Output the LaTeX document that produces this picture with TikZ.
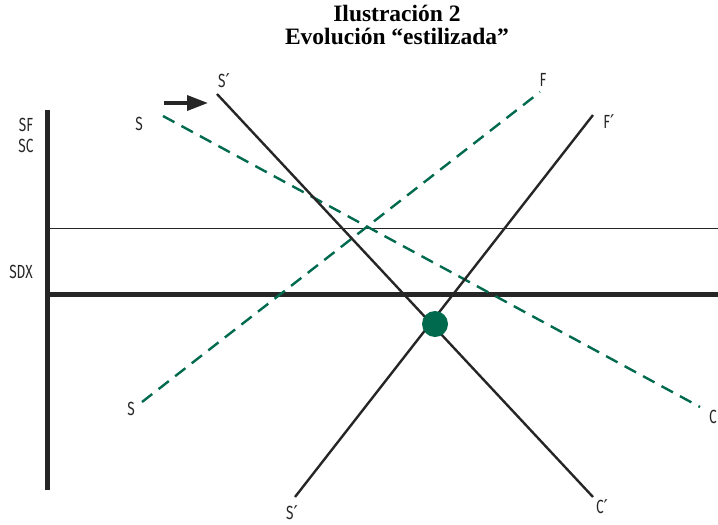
\documentclass[tikz,border=0pt]{standalone}
\usepackage{fontspec}
\setmainfont{Liberation Serif}
\newfontfamily\lblfont[FakeStretch=0.72]{Fira Sans}
\newfontfamily\prmfont{DejaVu Sans}
\newcommand{\prm}{{\prmfont ′}}
\usetikzlibrary{arrows.meta,positioning}
\definecolor{DarkGreen}{RGB}{0,106,78}

\begin{document}
\begin{tikzpicture}[x=1pt, y=-1pt,
		lbl/.style={font=\lblfont\fontsize{19}{19}\selectfont, text=black!85, inner sep=0pt},
		ttl/.style={font=\bfseries\fontsize{23.5}{24}\selectfont, inner sep=0pt},
		axis/.style={line width=5pt, black!85},
		level/.style={line width=0.9pt, black!85},
		curve/.style={line width=2.4pt, black!85},
		dcurve/.style={line width=2.4pt, DarkGreen, dash pattern=on 13pt off 8pt}]
	\useasboundingbox (0,0) rectangle (718,525);
	% title
	\node[ttl] (t1) at (397,13) {Ilustración 2};
	\node[ttl] (t2) at (397,36) {Evolución “estilizada”};
	% axes and levels
	\coordinate (O) at (47,294);
	\coordinate (Ytop) at (47,110);
	\coordinate (Ybot) at (47,490);
	\coordinate (Xend) at (718,294);
	\coordinate (Lleft) at (47,228);
	\coordinate (Lend) at (718,228);
	\draw[level] (Lleft) -- (Lend);
	\draw[axis] (O) -- (Xend);
	\draw[axis] (Ytop) -- (Ybot);
	\node[lbl] (sf) at (26,125) {SF};
	\node[lbl] (sc) at (26,146) {SC};
	\node[lbl] (sdx) at (21,272) {SDX};
	% end points of the lines
	\coordinate (S1) at (163,116);
	\coordinate (C1) at (700,407);
	\coordinate (S2) at (142,402);
	\coordinate (F1) at (540,92);
	\coordinate (S3) at (217,94);
	\coordinate (C3) at (593,497);
	\coordinate (S4) at (295,497);
	\coordinate (F4) at (593,115);
	\draw[dcurve] (S1) -- (C1);
	\draw[dcurve] (S2) -- (F1);
	\draw[curve] (S3) -- (C3);
	\draw[curve] (S4) -- (F4);
	% labels
	\node[lbl] (s1) at (139,124) {S};
	\node[lbl] (c1) at (713,417) {C};
	\node[lbl] (s2) at (131,409) {S};
	\node[lbl] (f1) at (543,80) {F};
	\node[lbl] (s3) at (224,81) {S\prm};
	\node[lbl] (c3) at (602,507) {C\prm};
	\node[lbl] (s4) at (292,513) {S\prm};
	\node[lbl] (f4) at (609,122) {F\prm};
	% shift
	\coordinate (A0) at (164,103);
	\coordinate (A1) at (208,103);
	\draw[line width=3.5pt, black!85, -{Triangle[length=21pt, width=15pt]}] (A0) -- (A1);
	% equilibrium
	\fill[DarkGreen] (435,324) circle (13);
\end{tikzpicture}
\end{document}
